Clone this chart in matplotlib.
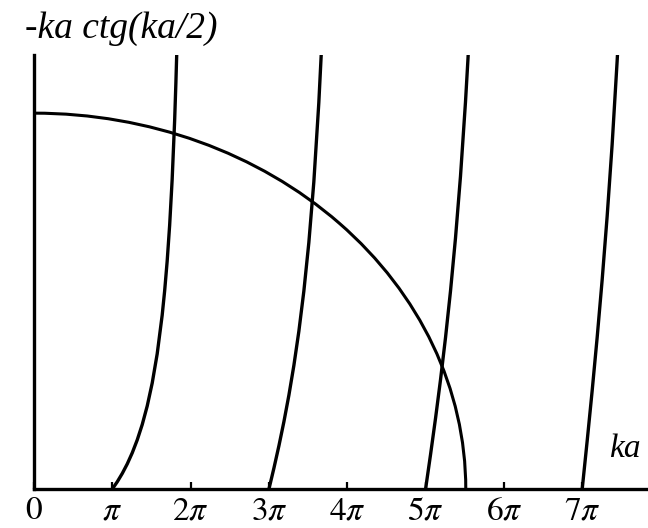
"""Graphical solution of -ka ctg(ka/2): branches of the function and the circle."""

import numpy as np
import matplotlib

matplotlib.use("Agg")
import matplotlib.pyplot as plt  # noqa: E402
from matplotlib.patches import Arc  # noqa: E402

# Branches of -ka ctg(ka/2) (ka, value)
branch1_ka = [3.1416, 3.3416, 3.5416, 3.7416, 3.9416, 4.1416, 4.3416, 4.5416,
              4.7416, 4.9416, 5.1416, 5.2416, 5.3416, 5.4416, 5.5416, 5.6416,
              5.6916, 5.7416]
branch1_y = [0.0, 0.335, 0.718, 1.157, 1.667, 2.263, 2.970, 3.825,
             4.882, 6.227, 8.008, 9.140, 10.495, 12.159, 14.254, 16.979,
             18.712, 20.682]

branch2_ka = [9.4248, 9.6248, 9.8248, 10.0248, 10.2248, 10.4248, 10.6248,
              10.8248, 11.0248, 11.2248, 11.4248, 11.5248]
branch2_y = [0.0, 0.966, 1.992, 3.101, 4.323, 5.695, 7.269,
             9.118, 11.352, 14.145, 17.793, 20.096]

branch3_ka = [15.708, 15.908, 16.108, 16.308, 16.508, 16.708, 16.908,
              17.108, 17.308, 17.408, 17.458]
branch3_y = [0.0, 1.596, 3.265, 5.045, 6.979, 9.128, 11.567,
             14.410, 17.821, 19.816, 20.904]

branch4_ka = [21.991, 22.191, 22.391, 22.591, 22.791, 22.991, 23.191,
              23.391, 23.441]
branch4_y = [0.0, 2.226, 4.539, 6.988, 9.636, 12.560, 15.866,
             19.702, 20.768]

branches = [
    (branch1_ka, branch1_y),
    (branch2_ka, branch2_y),
    (branch3_ka, branch3_y),
    (branch4_ka, branch4_y),
]

# Circle (quarter) crossing both axes
circle_radius = 17.32

tick_multiples = [0, 1, 2, 3, 4, 5, 6, 7]
tick_labels = ["$0$", r"$\pi$", r"$2\pi$", r"$3\pi$", r"$4\pi$",
               r"$5\pi$", r"$6\pi$", r"$7\pi$"]

X_MAX = 24.63
Y_MAX = 20.0

plt.rcParams["mathtext.fontset"] = "stix"
plt.rcParams["font.family"] = "Liberation Serif"

fig = plt.figure(figsize=(6.48, 5.28), dpi=100)
ax = fig.add_axes([34 / 648, 39 / 528, 614 / 648, 434 / 528])

for ka, y in branches:
    ax.plot(ka, y, color="black", linewidth=2.4, solid_capstyle="round")

arc = Arc((0, 0), 2 * circle_radius, 2 * circle_radius, theta1=0, theta2=90,
          color="black", linewidth=2.2)
ax.add_patch(arc)

ax.set_xlim(0, X_MAX)
ax.set_ylim(0, Y_MAX)

for side in ("top", "right"):
    ax.spines[side].set_visible(False)
for side in ("left", "bottom"):
    ax.spines[side].set_linewidth(2.4)

ax.set_xticks([m * np.pi for m in tick_multiples])
ax.set_xticklabels(tick_labels, fontsize=24)
ax.tick_params(axis="x", direction="in", length=5, width=1.6, pad=5)
ax.set_yticks([])

fig.text(25 / 648, 1 - 38 / 528, "-ka ctg(ka/2)", fontsize=27,
         fontstyle="italic", va="baseline", ha="left")
fig.text(609 / 648, 1 - 457 / 528, "ka", fontsize=24,
         fontstyle="italic", va="baseline", ha="left")

fig.savefig("out.png", dpi=100, facecolor="white")
